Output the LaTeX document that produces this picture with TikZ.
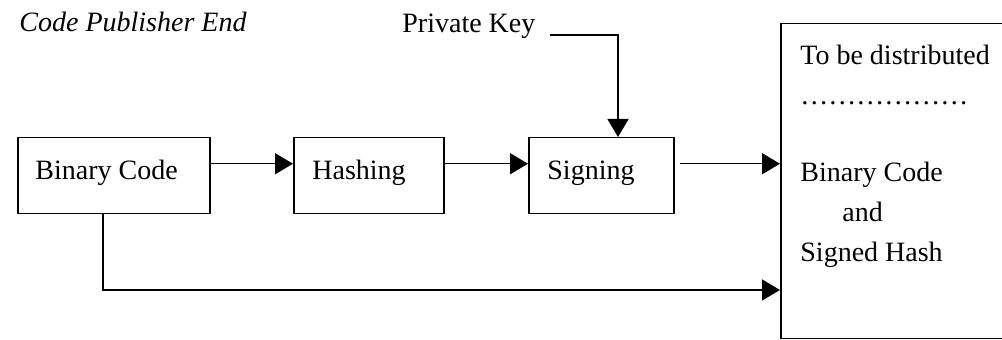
\documentclass[tikz,border=0pt]{standalone}
\usepackage{fontspec}
\setmainfont{Liberation Serif}
\usetikzlibrary{arrows.meta,calc}
\begin{document}
\begin{tikzpicture}[x=0.5pt,y=-0.5pt,
  box/.style={draw, line width=0.75pt, rectangle, inner sep=0pt, anchor=north west},
  lbl/.style={anchor=base west, inner sep=0pt, font=\fontsize{14}{16}\selectfont},
  flow/.style={line width=0.75pt, -{Triangle[length=9pt,width=10.5pt]}},
  wire/.style={line width=0.75pt}]
\useasboundingbox (0,0) rectangle (1002,340);
\clip (0,0) rectangle (1002,340);

% processing boxes
\node[box, minimum width=96pt, minimum height=38pt] (bin) at (17,137) {};
\node[box, minimum width=75pt, minimum height=38pt] (hash) at (293,137) {};
\node[box, minimum width=72.5pt, minimum height=38pt] (sign) at (528,137) {};
% output box, running past the right edge
\node[box, minimum width=118pt, minimum height=157.5pt] (dist) at (780,23) {};

% texts
\node[lbl] (title) at (19,32) {\itshape Code Publisher End};
\node[lbl] (key) at (402,33) {Private Key};
\node[lbl] (bintxt) at (35,180) {Binary Code};
\node[lbl] (hashtxt) at (312,180) {Hashing};
\node[lbl] (signtxt) at (547,180) {Signing};
\node[lbl] (d1) at (800,65) {To be distributed};
\node[lbl] (d2) at (800,105) {…\kern0pt…\kern0pt…\kern0pt…\kern0pt…\kern0pt…};
\node[lbl] (d3) at (800,182) {Binary Code};
\node[lbl] (d4) at (842,222) {and};
\node[lbl] (d5) at (800,262) {Signed Hash};

% connectors
\draw[flow] ($(bin.east)+(0,-12)$) -- ($(hash.west)+(0,-12)$);
\draw[flow] ($(hash.east)+(0,-12)$) -- ($(sign.west)+(0,-12)$);
\coordinate (s1) at ($(sign.east)+(5,-12)$);
\draw[flow] (s1) -- (s1 -| dist.west);
\coordinate (k0) at (550,35);
\coordinate (k1) at (618,35);
\draw[flow] (k0) -- (k1) -- (k1 |- sign.north);
\coordinate (b0) at (103,290);
\draw[flow] (bin.south -| b0) -- (b0) -- (b0 -| dist.west);
\end{tikzpicture}
\end{document}
